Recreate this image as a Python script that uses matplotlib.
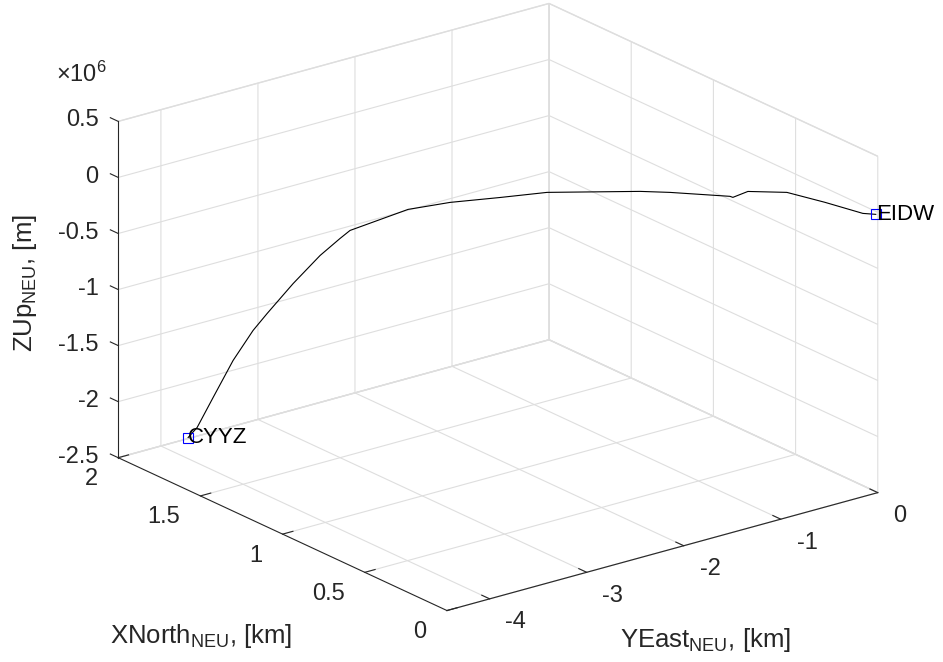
import numpy as np
import matplotlib
matplotlib.use('Agg')
import matplotlib.pyplot as plt
from matplotlib.ticker import FuncFormatter

plt.rcParams['font.family'] = ['Liberation Sans', 'DejaVu Sans']
plt.rcParams['mathtext.fontset'] = 'custom'
plt.rcParams['mathtext.rm'] = 'Liberation Sans'
plt.rcParams['mathtext.it'] = 'Liberation Sans:italic'

# flight track, NEU frame (East / North in 1e6 m, Up in m)
east = [-4.404, -4.330, -4.111, -3.820, -3.560, -3.400, -3.098, -2.788, -2.579, -2.476,
        -2.102, -1.897, -1.672, -1.438, -1.031, -0.903, -0.651, -0.648, -0.490, -0.283,
        -0.194, -0.110, -0.041]
north = [1.596, 1.585, 1.617, 1.667, 1.699, 1.708, 1.728, 1.747, 1.749, 1.749,
         1.617, 1.482, 1.311, 1.163, 0.838, 0.732, 0.515, 0.499, 0.501, 0.386,
         0.208, 0.026, -0.012]
up = [-2.053e6, -1.974e6, -1.780e6, -1.552e6, -1.368e6, -1.261e6, -1.079e6, -0.915e6,
      -0.814e6, -0.767e6, -0.578e6, -0.472e6, -0.365e6, -0.274e6, -0.140e6, -0.107e6,
      -0.054e6, -0.053e6, -0.039e6, -0.018e6, -0.006e6, -0.001e6, -0.0e6]
airports = ['CYYZ', 'EIDW']

east_ticks = [-4, -3, -2, -1, 0]
north_ticks = [0, 0.5, 1, 1.5, 2]
up_ticks = [-2.5e6, -2e6, -1.5e6, -1e6, -0.5e6, 0, 0.5e6]

GRAY = (0.15, 0.15, 0.15)
W, H = 943, 662

fig = plt.figure(figsize=(W / 100, H / 100), dpi=100)
S = 821.5  # side of the square 3d axes, px
cx, cy = 486.9, 318.1
ax = fig.add_axes([(cx - S / 2) / W, 1 - (cy + S / 2) / H, S / W, S / H], projection='3d')
ax.set_proj_type('ortho')
ax.view_init(elev=20.9, azim=-127.5)
ax.set_box_aspect((543, 540, 360), zoom=1.0)

ax.plot(east, north, up, color='k', lw=0.8)
for i in (0, -1):
    ax.plot(east[i], north[i], up[i], 's', mfc='none', mec='blue', ms=7, mew=0.8)
ax.text(east[0], north[0], up[0], airports[0], fontsize=16, va='center', ha='left')
ax.text(east[-1], north[-1], up[-1], airports[1], fontsize=16, va='center', ha='left')

ax.set_xlim(-4.44, 0)
ax.set_ylim(0, 2)
ax.set_zlim(-2.5e6, 0.5e6)
ax.set_xticks(east_ticks)
ax.set_yticks(north_ticks)
ax.set_zticks(up_ticks)
ax.xaxis.set_major_formatter(FuncFormatter(lambda v, p: f'{v:g}'))
ax.yaxis.set_major_formatter(FuncFormatter(lambda v, p: f'{v:g}'))
ax.zaxis.set_major_formatter(FuncFormatter(lambda v, p: f'{v/1e6:g}'))

# z ticks point along North like MATLAB's
if hasattr(type(ax.zaxis), '_AXINFO'):
    info = {k: dict(v) for k, v in type(ax.zaxis)._AXINFO.items()}
    info['z']['tickdir'] = 1
    ax.zaxis._AXINFO = info

for axis in (ax.xaxis, ax.yaxis, ax.zaxis):
    axis.set_pane_color((1, 1, 1, 1))
    axis.pane.set_edgecolor((0.87, 0.87, 0.87))
    axis._axinfo['grid'].update(color=(0.87, 0.87, 0.87), linewidth=0.8)
    axis._axinfo['axisline']['color'] = GRAY
    axis._axinfo['tick']['inward_factor'] = 0.0
    axis._axinfo['tick']['outward_factor'] = 0.3
    axis.line.set_color(GRAY)
    axis.offsetText.set_visible(False)
    axis.label.set_visible(False)
ax.title.set_visible(False)
ax.tick_params(labelsize=17, colors=GRAY)
ax.xaxis.set_tick_params(pad=6.8)
ax.yaxis.set_tick_params(pad=6.5)
ax.zaxis.set_tick_params(pad=0)
plt.setp(ax.get_xticklabels(), ha='left', va='center')
plt.setp(ax.get_yticklabels(), ha='right', va='center')
plt.setp(ax.get_zticklabels(), ha='right', va='center')

fig.text(56 / W, 1 - 82 / H, '×10$^{6}$', fontsize=17, color=GRAY, ha='left', va='baseline')
fig.text(25 / W, 1 - 283 / H, 'ZUp$_{\\mathrm{NEU}}$, [m]', fontsize=18.5, color=GRAY,
         rotation=90, ha='center', va='center')
fig.text(201 / W, 1 - 636 / H, 'XNorth$_{\\mathrm{NEU}}$, [km]', fontsize=18.5, color=GRAY,
         ha='center', va='center')
fig.text(705 / W, 1 - 640 / H, 'YEast$_{\\mathrm{NEU}}$, [km]', fontsize=18.5, color=GRAY,
         ha='center', va='center')

fig.savefig('out.png', dpi=100)
